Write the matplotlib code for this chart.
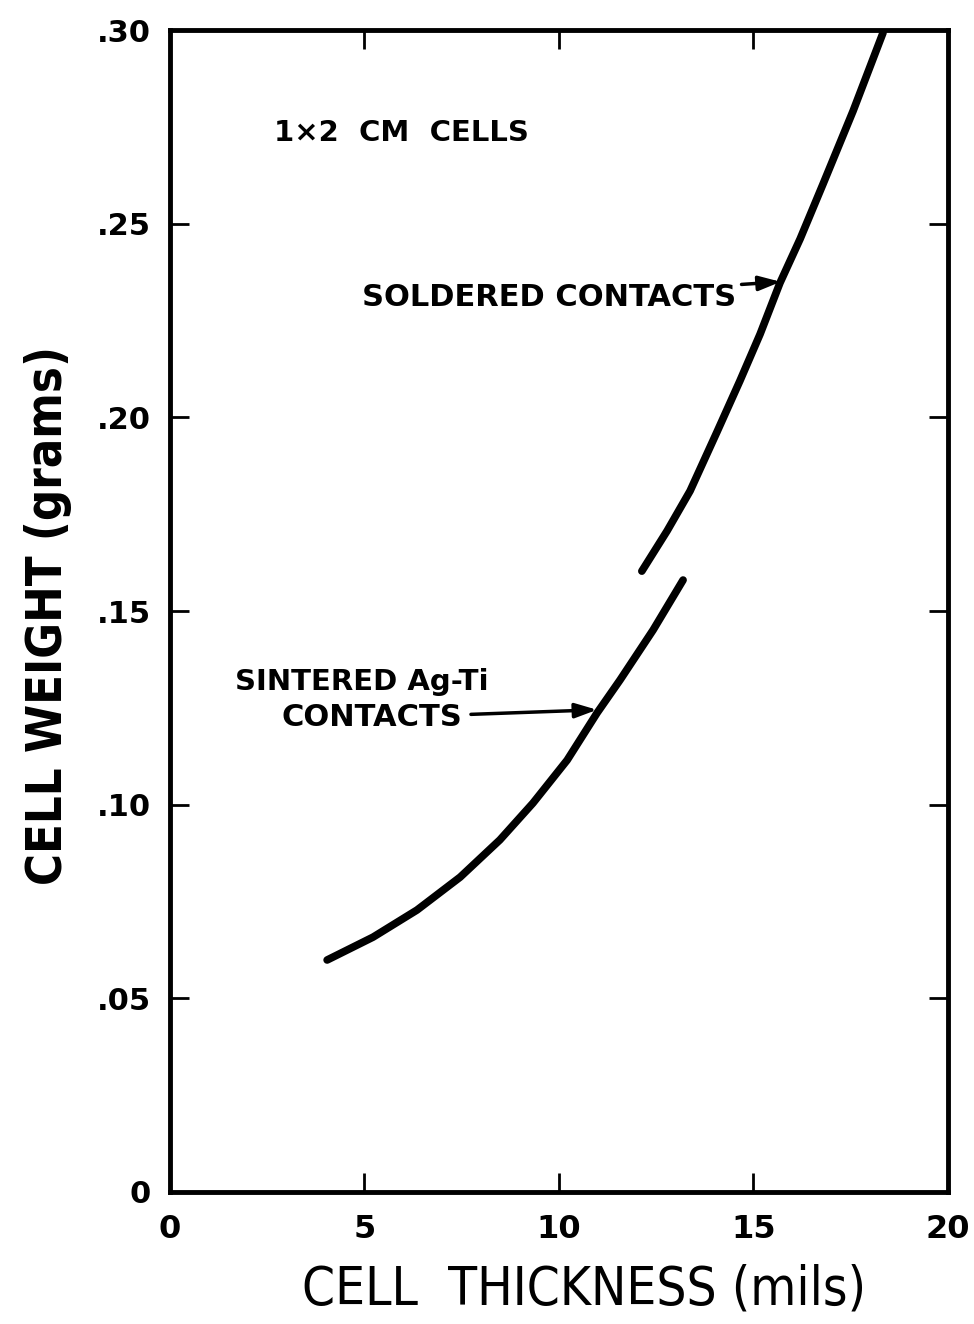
import numpy as np
import matplotlib.pyplot as plt

# Cell thickness (mils) vs. cell weight (grams) for 1x2 cm cells
sintered_thickness = [4.04, 5.22, 6.35, 7.46, 8.48, 9.33, 10.21, 10.98, 11.57, 12.42, 13.19]
sintered_weight = [0.0599, 0.0658, 0.0728, 0.0813, 0.0909, 0.1004, 0.1115, 0.1237, 0.1322,
                   0.1451, 0.1580]

soldered_thickness = [12.13, 12.78, 13.37, 14.06, 14.65, 15.17, 15.68, 16.20, 16.79, 17.56, 18.33]
soldered_weight = [0.1603, 0.1707, 0.1810, 0.1962, 0.2094, 0.2215, 0.2347, 0.2461, 0.2603,
                   0.2791, 0.2993]

x_ticks = [0, 5, 10, 15, 20]
x_tick_labels = ["0", "5", "10", "15", "20"]
y_ticks = [0, 0.05, 0.10, 0.15, 0.20, 0.25, 0.30]
y_tick_labels = ["0", ".05", ".10", ".15", ".20", ".25", ".30"]

fig = plt.figure(figsize=(9.74, 13.24), dpi=100)
ax = fig.add_axes([0.1745, 0.0997, 0.7988, 0.8776])

ax.plot(sintered_thickness, sintered_weight, color="black", lw=5.5,
        solid_capstyle="round", solid_joinstyle="round")
ax.plot(soldered_thickness, soldered_weight, color="black", lw=5.5,
        solid_capstyle="round", solid_joinstyle="round")

ax.set_xlim(0, 20)
ax.set_ylim(0, 0.30)
ax.set_xticks(x_ticks)
ax.set_xticklabels(x_tick_labels)
ax.set_yticks(y_ticks)
ax.set_yticklabels(y_tick_labels)
ax.tick_params(direction="in", length=14, width=2, top=True, right=True)
ax.tick_params(axis="x", pad=16, labelsize=23)
ax.tick_params(axis="y", pad=14, labelsize=22)
for lbl in ax.get_xticklabels() + ax.get_yticklabels():
    lbl.set_fontweight("bold")
for s in ax.spines.values():
    s.set_linewidth(3.5)

# Curve labels
arrow = dict(arrowstyle="-|>,head_length=0.6,head_width=0.2",
             color="black", lw=2.5, shrinkB=0)
ax.text(5.96, 0.2734, "1\u00d72  CM  CELLS", ha="center", va="center",
        fontsize=21, fontweight="bold")
ax.annotate("SOLDERED CONTACTS", xy=(15.7, 0.2350), xytext=(14.55, 0.231),
            ha="right", va="center", fontsize=22, fontweight="bold",
            arrowprops=dict(arrow, shrinkA=2))
ax.text(4.94, 0.1317, "SINTERED Ag-Ti", ha="center", va="center",
        fontsize=21, fontweight="bold")
ax.annotate("CONTACTS", xy=(10.98, 0.1245), xytext=(5.2, 0.1224),
            ha="center", va="center", fontsize=22, fontweight="bold",
            arrowprops=dict(arrow, shrinkA=4))

fig.text(0.60, 0.026, "CELL  THICKNESS (mils)", ha="center", va="center",
         fontsize=38, fontstretch="condensed")
fig.text(0.049, 0.535, "CELL WEIGHT (grams)", ha="center", va="center",
         rotation=90, fontsize=35, fontweight="bold", fontstretch="condensed")

fig.savefig("out.png", dpi=100)
